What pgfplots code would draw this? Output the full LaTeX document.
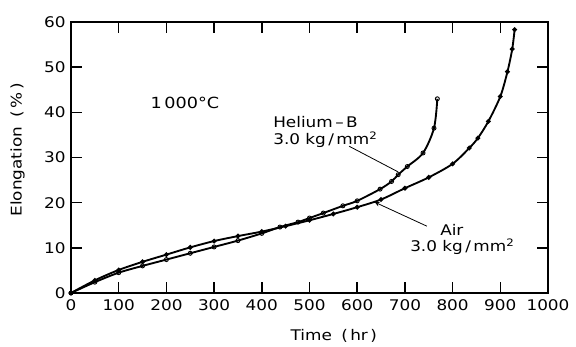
\documentclass[border=0pt]{standalone}
\usepackage{fontspec}
\setmainfont{DejaVu Sans}[FakeStretch=1.15]
\usepackage{pgfplots}
\pgfplotsset{compat=1.18}
\begin{document}
\begin{tikzpicture}
\begin{axis}[
  at={(0,0)}, anchor=south west,
  scale only axis,
  width=357.75pt, height=203.25pt,
  xmin=0, xmax=1000, ymin=0, ymax=60,
  xtick={0,100,...,1000}, ytick={0,10,...,60},
  tick align=inside,
  major tick length=8.25pt,
  axis line style={line width=1.1pt},
  every tick/.style={line width=1.1pt, black},
  /pgf/number format/assume math mode=true,
  /pgf/number format/1000 sep={},
  tick label style={font=\fontsize{11}{13}\selectfont},
  xticklabel style={yshift=-1.5pt},
  yticklabel style={xshift=-0.5pt},
  xlabel={Time\hspace{7pt}(\,hr\,)},
  ylabel={Elongation\hspace{7pt}(\,\%\,)},
  label style={font=\fontsize{11}{13}\selectfont},
  xlabel style={at={(axis description cs:0.551,-0.159)}, anchor=center},
  ylabel style={at={(axis description cs:-0.112,0.528)}, anchor=center},
  clip=false,
]
% Air 3.0 kg/mm2 (filled dots)
\addplot[black, line width=1.4pt, smooth, tension=0.5, mark=*, mark size=1.0pt] coordinates {
(0,0)(50,2.8)(100,5.1)(150,6.9)(200,8.5)(250,10.1)(300,11.5)(350,12.6)(400,13.6)
(450,14.8)(500,16.1)(550,17.5)(600,19.0)(650,20.7)(700,23.2)(750,25.6)(800,28.6)
(835,32.1)(853,34.3)(875,38.0)(900,43.5)(915,49)(925,54)(930,58.3)};
% Helium-B 3.0 kg/mm2 (open circles)
\addplot[black, line width=1.4pt, smooth, tension=0.5, mark=o, mark size=1.5pt,
  mark options={line width=0.7pt, fill=white}] coordinates {
(0,0)(50,2.4)(100,4.5)(150,6.0)(200,7.4)(250,8.8)(300,10.2)(350,11.6)(400,13.2)
(438,14.6)(476,15.7)(500,16.6)(529,17.7)(570,19.3)(600,20.4)(648,23.0)(672,24.7)
(686,26.2)(705,28.0)(738,31.0)(761,36.5)(768,43.0)};
\node[font=\fontsize{11.5}{13}\selectfont] at (axis cs:239,42.1) {1\,000\textdegree C};
\node[font=\fontsize{11}{13}\selectfont, anchor=base west, inner sep=0pt] at (axis cs:423.5,36.75) {Helium\,--\,B};
\node[font=\fontsize{11}{13}\selectfont, anchor=base west, inner sep=0pt] at (axis cs:423.5,32.77) {3.0 kg\,/\,mm\textsuperscript{2}};
\draw[line width=0.6pt] (axis cs:583,32.5) -- (axis cs:686,26.8);
\node[font=\fontsize{11}{13}\selectfont, anchor=base west, inner sep=0pt] at (axis cs:773.6,12.84) {Air};
\node[font=\fontsize{11}{13}\selectfont, anchor=base west, inner sep=0pt] at (axis cs:710.7,9.08) {3.0 kg\,/\,mm\textsuperscript{2}};
\draw[line width=0.6pt, -stealth] (axis cs:746,14.8) -- (axis cs:637,20.1);
\end{axis}
\pgfresetboundingbox
\path (-53.25pt,-40.5pt) rectangle (378.75pt,219.75pt);
\end{tikzpicture}
\end{document}
